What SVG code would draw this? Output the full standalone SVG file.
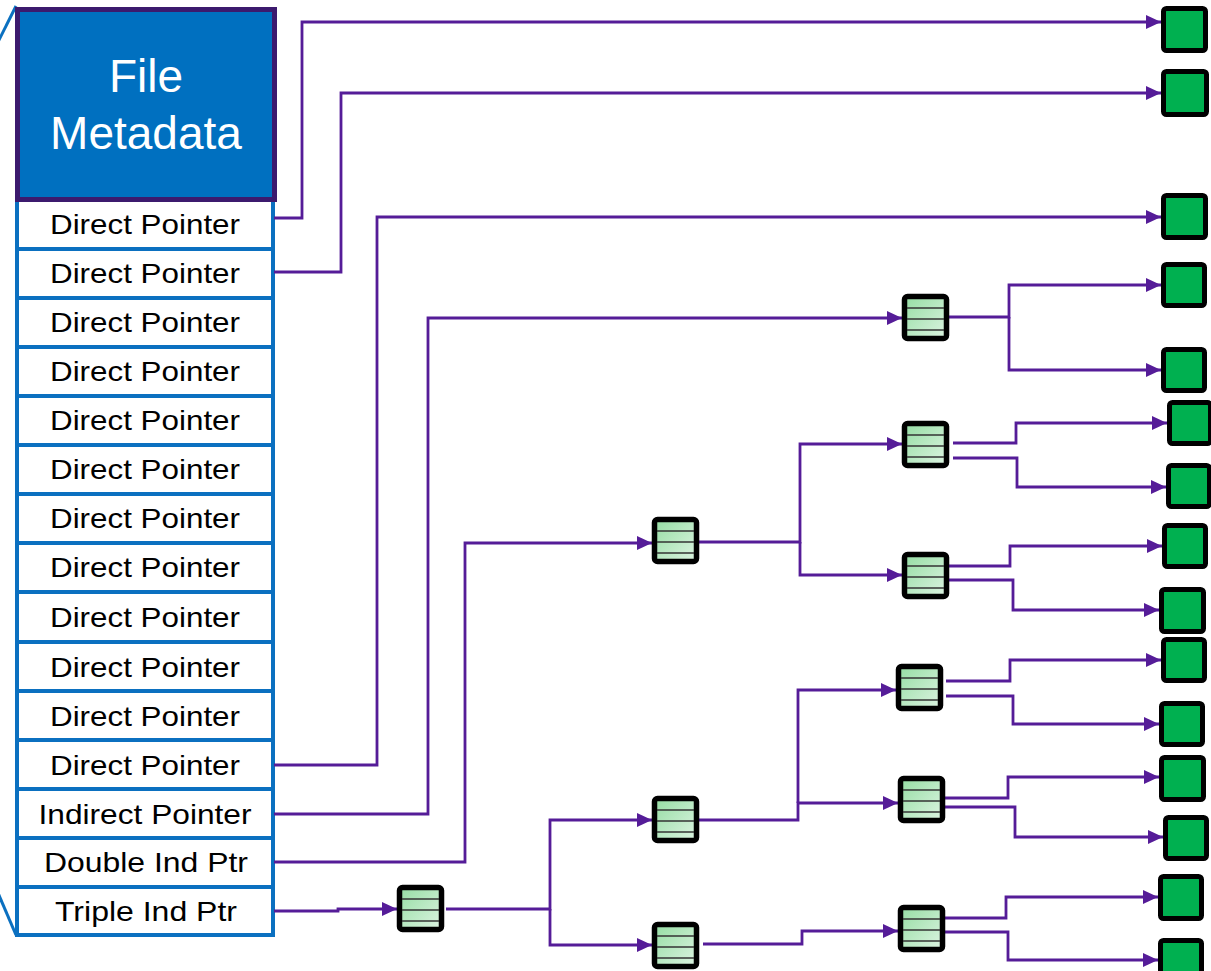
<svg xmlns="http://www.w3.org/2000/svg" width="1211" height="971" viewBox="0 0 1211 971">
<style>
.row{fill:#fff;stroke:#0B70C0;stroke-width:4}
.lbl{font-family:"Liberation Sans",Arial,sans-serif;font-size:28.5px;fill:#000;text-anchor:middle}
.meta{font-family:"Liberation Sans",Arial,sans-serif;font-size:46px;fill:#fff;text-anchor:middle}
.con{fill:none;stroke:#551C98;stroke-width:2.8;marker-end:url(#ah)}
.data{fill:#00B050;stroke:#000;stroke-width:5}
</style>
<defs>
<marker id="ah" markerUnits="userSpaceOnUse" markerWidth="16" markerHeight="16" refX="15" refY="8" orient="auto">
<path d="M0,1 L15,8 L0,15 z" fill="#551C98"/>
</marker>
<linearGradient id="gg" x1="0" y1="0" x2="1" y2="1">
<stop offset="0" stop-color="#95DDA3"/>
<stop offset="1" stop-color="#DDF4E2"/>
</linearGradient>
<g id="idx">
<rect x="2.5" y="2.5" width="42" height="42" rx="3" fill="url(#gg)" stroke="#000" stroke-width="5.5"/>
<line x1="5" y1="14" x2="42" y2="14" stroke="#333" stroke-width="1.5"/>
<line x1="5" y1="25" x2="42" y2="25" stroke="#333" stroke-width="1.5"/>
<line x1="5" y1="36" x2="42" y2="36" stroke="#333" stroke-width="1.5"/>
</g>
</defs>
<rect width="1211" height="971" fill="#fff"/>

<g id="inode">
<line x1="-2" y1="42" x2="16" y2="6" stroke="#0B70C0" stroke-width="3"/>
<line x1="-2" y1="893" x2="16" y2="935" stroke="#0B70C0" stroke-width="3"/>
<rect class="row" x="17" y="200" width="256" height="735"/>
<g stroke="#0B70C0" stroke-width="4">
<line x1="17" y1="249" x2="273" y2="249"/>
<line x1="17" y1="298" x2="273" y2="298"/>
<line x1="17" y1="347" x2="273" y2="347"/>
<line x1="17" y1="396" x2="273" y2="396"/>
<line x1="17" y1="445" x2="273" y2="445"/>
<line x1="17" y1="494" x2="273" y2="494"/>
<line x1="17" y1="543" x2="273" y2="543"/>
<line x1="17" y1="592" x2="273" y2="592"/>
<line x1="17" y1="642" x2="273" y2="642"/>
<line x1="17" y1="691" x2="273" y2="691"/>
<line x1="17" y1="740" x2="273" y2="740"/>
<line x1="17" y1="789" x2="273" y2="789"/>
<line x1="17" y1="838" x2="273" y2="838"/>
<line x1="17" y1="887" x2="273" y2="887"/>
</g>
<rect x="17.5" y="9.5" width="257" height="190" fill="#0070C0" stroke="#3C1A6E" stroke-width="5"/>
<text class="meta" x="146" y="92">File</text>
<text class="meta" x="146" y="149">Metadata</text>
<text class="lbl" x="145" y="234" textLength="190" lengthAdjust="spacingAndGlyphs">Direct Pointer</text>
<text class="lbl" x="145" y="283" textLength="190" lengthAdjust="spacingAndGlyphs">Direct Pointer</text>
<text class="lbl" x="145" y="332" textLength="190" lengthAdjust="spacingAndGlyphs">Direct Pointer</text>
<text class="lbl" x="145" y="381" textLength="190" lengthAdjust="spacingAndGlyphs">Direct Pointer</text>
<text class="lbl" x="145" y="430" textLength="190" lengthAdjust="spacingAndGlyphs">Direct Pointer</text>
<text class="lbl" x="145" y="479" textLength="190" lengthAdjust="spacingAndGlyphs">Direct Pointer</text>
<text class="lbl" x="145" y="528" textLength="190" lengthAdjust="spacingAndGlyphs">Direct Pointer</text>
<text class="lbl" x="145" y="577" textLength="190" lengthAdjust="spacingAndGlyphs">Direct Pointer</text>
<text class="lbl" x="145" y="627" textLength="190" lengthAdjust="spacingAndGlyphs">Direct Pointer</text>
<text class="lbl" x="145" y="677" textLength="190" lengthAdjust="spacingAndGlyphs">Direct Pointer</text>
<text class="lbl" x="145" y="726" textLength="190" lengthAdjust="spacingAndGlyphs">Direct Pointer</text>
<text class="lbl" x="145" y="775" textLength="190" lengthAdjust="spacingAndGlyphs">Direct Pointer</text>
<text class="lbl" x="145" y="824" textLength="213" lengthAdjust="spacingAndGlyphs">Indirect Pointer</text>
<text class="lbl" x="146" y="872" textLength="204" lengthAdjust="spacingAndGlyphs">Double Ind Ptr</text>
<text class="lbl" x="146" y="921" textLength="182" lengthAdjust="spacingAndGlyphs">Triple Ind Ptr</text>
</g>

<g id="connectors">
<path class="con" d="M274,218 H302 V22 H1161"/>
<path class="con" d="M274,272 H341 V93 H1161"/>
<path class="con" d="M274,765 H377 V217 H1161"/>
<path class="con" d="M274,814 H428 V318 H902"/>
<path class="con" d="M274,862 H465 V543 H652"/>
<path class="con" d="M274,911 H338 V909 H397"/>
<path class="con" d="M948,317 H1009 V285 H1161"/>
<path class="con" d="M1009,317 V370 H1161"/>
<path class="con" d="M699,542 H800 V444 H902"/>
<path class="con" d="M800,542 V575 H902"/>
<path class="con" d="M953,443 H1016 V423 H1167"/>
<path class="con" d="M953,458 H1017 V487 H1166"/>
<path class="con" d="M949,566 H1010 V546 H1162"/>
<path class="con" d="M949,580 H1013 V610 H1159"/>
<path class="con" d="M446,909 H550 V820 H652"/>
<path class="con" d="M550,909 V945 H652"/>
<path class="con" d="M699,820 H798 V803 H898"/>
<path class="con" d="M798,803 V690 H896"/>
<path class="con" d="M703,944 H802 V931 H898"/>
<path class="con" d="M946,681 H1010 V660 H1161"/>
<path class="con" d="M946,696 H1013 V724 H1159"/>
<path class="con" d="M944,798 H1008 V777 H1159"/>
<path class="con" d="M944,807 H1015 V837 H1163"/>
<path class="con" d="M945,918 H1006 V897 H1158"/>
<path class="con" d="M945,932 H1008 V960 H1158"/>
</g>

<g id="single-ind"><use href="#idx" x="902" y="294"/></g>
<g id="double-ind-1"><use href="#idx" x="652" y="517"/></g>
<g id="double-ind-2a"><use href="#idx" x="902" y="421"/></g>
<g id="double-ind-2b"><use href="#idx" x="902" y="552"/></g>
<g id="triple-ind-1"><use href="#idx" x="397" y="885"/></g>
<g id="triple-ind-2a"><use href="#idx" x="652" y="796"/></g>
<g id="triple-ind-2b"><use href="#idx" x="652" y="922"/></g>
<g id="triple-ind-3a"><use href="#idx" x="896" y="664"/></g>
<g id="triple-ind-3b"><use href="#idx" x="898" y="776"/></g>
<g id="triple-ind-3c"><use href="#idx" x="898" y="905"/></g>

<g id="data1"><rect class="data" x="1163.5" y="8.5" width="42" height="42" rx="3"/></g>
<g id="data2"><rect class="data" x="1163.5" y="71.5" width="43" height="43" rx="3"/></g>
<g id="data3"><rect class="data" x="1163.5" y="195.5" width="42" height="42" rx="3"/></g>
<g id="data4"><rect class="data" x="1163.5" y="264.5" width="41" height="41" rx="3"/></g>
<g id="data5"><rect class="data" x="1163.5" y="349.5" width="41" height="41" rx="3"/></g>
<g id="data6"><rect class="data" x="1169.5" y="402.5" width="41" height="41" rx="3"/></g>
<g id="data7"><rect class="data" x="1168.5" y="465.5" width="41" height="41" rx="3"/></g>
<g id="data8"><rect class="data" x="1164.5" y="525.5" width="41" height="41" rx="3"/></g>
<g id="data9"><rect class="data" x="1161.5" y="589.5" width="42" height="42" rx="3"/></g>
<g id="data10"><rect class="data" x="1163.5" y="639.5" width="41" height="41" rx="3"/></g>
<g id="data11"><rect class="data" x="1161.5" y="703.5" width="41" height="41" rx="3"/></g>
<g id="data12"><rect class="data" x="1161.5" y="757.5" width="42" height="42" rx="3"/></g>
<g id="data13"><rect class="data" x="1165.5" y="817.5" width="41" height="41" rx="3"/></g>
<g id="data14"><rect class="data" x="1160.5" y="876.5" width="41" height="42" rx="3"/></g>
<g id="data15"><rect class="data" x="1160.5" y="940.5" width="41" height="42" rx="3"/></g>
</svg>
